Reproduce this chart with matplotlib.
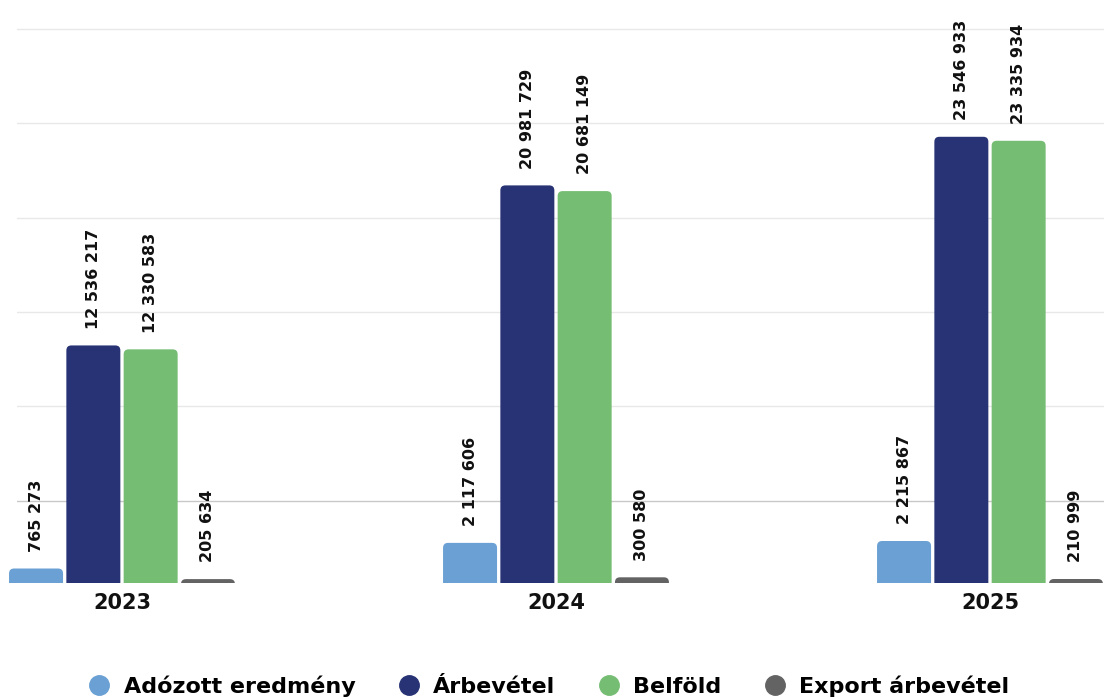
import matplotlib
matplotlib.use("Agg")
import matplotlib.pyplot as plt
from matplotlib.patches import FancyBboxPatch, Rectangle
from matplotlib.lines import Line2D
import numpy as np

# data
years = ["2023", "2024", "2025"]
series_names = ["Adózott eredmény", "Árbevétel", "Belföld", "Export árbevétel"]
adozott = [765273, 2117606, 2215867]
arbevetel = [12536217, 20981729, 23546933]
belfold = [12330583, 20681149, 23335934]
export = [205634, 300580, 210999]
colors = ["#6aa0d4", "#283375", "#76bd74", "#636363"]

series = [adozott, arbevetel, belfold, export]

W, H = 1104, 699
fig = plt.figure(figsize=(W / 100, H / 100), dpi=100)

# axes placed in pixel terms: baseline at 583 px, gridlines start at x=17
ax = fig.add_axes([17 / W, (H - 583) / H, (W - 17) / W, 583 / H])
px_per_cat = 434.0
px_per_unit_y = 18.95e-6
ax.set_xlim((17 - 122) / px_per_cat, (W - 122) / px_per_cat)
ax.set_ylim(0, 583 / px_per_unit_y)

# gridlines (decorative, spaced ~5M)
grid_vals = 4.35e6 + 4.975e6 * np.arange(6)
ax.set_yticks(grid_vals)
ax.yaxis.grid(True, color="#e8e8e8", linewidth=1.0)
ax.set_axisbelow(True)
ax.tick_params(axis="y", left=False, labelleft=False)
for s in ax.spines.values():
    s.set_visible(False)
ax.get_ygridlines()[0].set_color("#c8c8c8")

x = np.arange(len(years))
bar_w = 54 / px_per_cat
step = 57.3 / px_per_cat
offsets = (np.arange(4) - 1.5) * step

# rounded top corners: radius ~5 px
r_x = 5 / px_per_cat
aspect = px_per_cat / px_per_unit_y
r_y = r_x * aspect

clip = Rectangle((-1, 0), 5, 1e9, transform=ax.transData)

for vals, col, off in zip(series, colors, offsets):
    for xi, v in zip(x, vals):
        left = xi + off - bar_w / 2
        bottom = -2 * r_y
        patch = FancyBboxPatch((left, bottom), bar_w, v - bottom,
                               boxstyle=f"round,pad=0,rounding_size={r_x}",
                               mutation_aspect=aspect,
                               facecolor=col, edgecolor="none")
        ax.add_patch(patch)
        patch.set_clip_path(clip)
        label = f"{v:,}".replace(",", " ")
        ax.annotate(label, (xi + off, v), xytext=(0, 12), textcoords="offset points",
                    rotation=90, ha="center", va="bottom", fontsize=11.5,
                    fontweight="bold", color="#111111")

ax.set_xticks(x)
ax.set_xticklabels(years, fontsize=15, fontweight="bold", color="#111111")
ax.tick_params(axis="x", length=0, pad=7)

handles = [Line2D([], [], marker="o", linestyle="none", markersize=14,
                  markerfacecolor=c, markeredgecolor=c) for c in colors]
fig.legend(handles, series_names, loc="center", bbox_to_anchor=(0.497, 1 - 686 / H),
           ncol=4, frameon=False, prop={"size": 16, "weight": "bold"},
           handlelength=1.0, handletextpad=0.6, columnspacing=1.9)

fig.savefig("out.png", dpi=100)
